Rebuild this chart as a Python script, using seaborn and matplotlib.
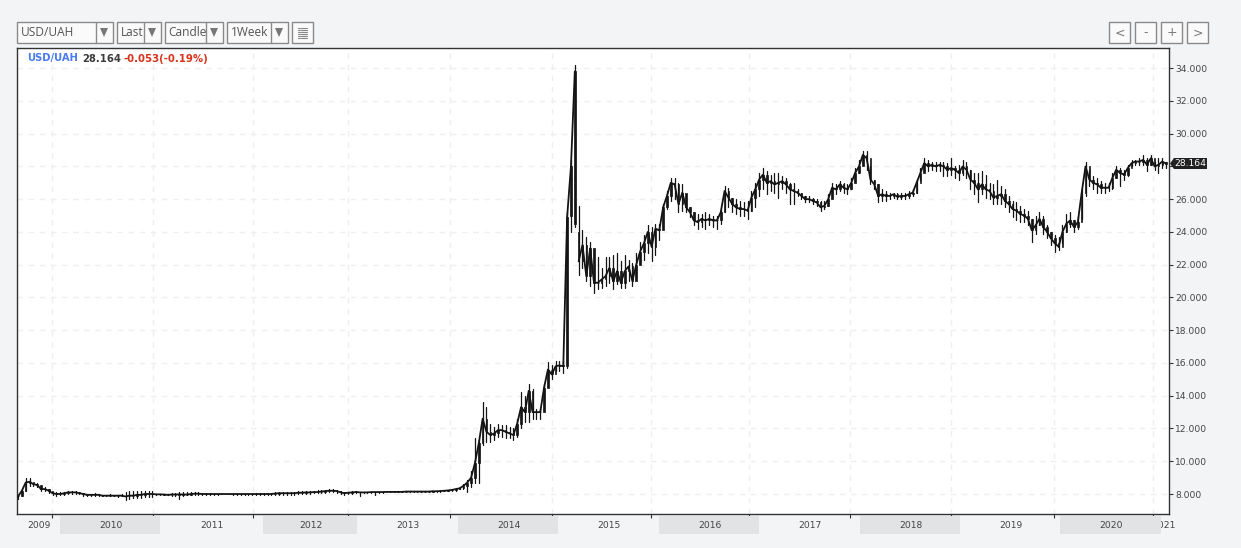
import numpy as np
import pandas as pd
import matplotlib
matplotlib.use("Agg")
import matplotlib.pyplot as plt
from matplotlib.patches import Rectangle, Polygon
import seaborn as sns

years = ["2009","2010","2011","2012","2013","2014","2015","2016","2017","2018","2019","2020","2021"]
price_ticks = [8,10,12,14,16,18,20,22,24,26,28,30,32,34]

close_2009 = [7.85,8.2,8.7,8.75,8.6,8.55,8.3,8.3,8.2]
high_2009  = [7.95,8.3,8.95,8.95,8.7,8.7,8.45,8.45,8.3]
low_2009   = [7.7,7.9,8.2,8.5,8.5,8.4,8.2,8.2,8.05]

close_2010 = [8.05,8.0,8.0,8.05,8.1,8.1,8.1,8.05,8.0,7.95,7.95,7.95,7.95,7.9,7.9,7.9,7.9,7.9,7.9,7.85,7.9,7.9,7.95,7.95,8.0,8.0,8.0]
high_2010  = [8.15,8.1,8.1,8.15,8.2,8.2,8.2,8.1,8.05,8.0,8.0,8.05,8.0,7.95,7.95,8.0,7.95,7.95,7.98,8.15,8.2,8.2,8.2,8.2,8.2,8.2,8.2]
low_2010   = [7.95,7.9,7.95,7.95,8.0,8.0,8.0,8.0,7.9,7.88,7.85,7.85,7.9,7.85,7.85,7.85,7.85,7.82,7.85,7.65,7.7,7.75,7.75,7.75,7.8,7.8,7.8]

close_2011 = [7.98,7.98,7.97,7.95,7.97,7.97,7.98,7.97,7.97,8.0,8.02,8.02,8.0,8.0,8.0,8.0,8.0,8.0,8.0,8.0,8.0,8.0,8.0,8.0,8.0,8.0]
high_2011  = [8.02,8.02,8.02,8.0,8.05,8.08,8.1,8.1,8.1,8.1,8.1,8.1,8.08,8.06,8.05,8.03,8.02,8.02,8.02,8.02,8.03,8.03,8.03,8.02,8.03,8.03]
low_2011   = [7.95,7.95,7.93,7.92,7.9,7.9,7.72,7.9,7.92,7.95,7.97,7.97,7.95,7.96,7.96,7.97,7.97,7.98,7.98,7.98,7.97,7.97,7.97,7.97,7.96,7.96]

close_2012 = [8.0,8.0,8.0,8.0,8.0,8.03,8.05,8.05,8.05,8.05,8.05,8.08,8.08,8.1,8.1,8.12,8.12,8.15,8.18,8.2,8.2,8.18,8.1,8.05]
high_2012  = [8.04,8.05,8.05,8.06,8.08,8.12,8.15,8.15,8.15,8.15,8.15,8.17,8.17,8.2,8.2,8.2,8.22,8.24,8.26,8.28,8.28,8.25,8.2,8.15]
low_2012   = [7.96,7.96,7.95,7.93,7.92,7.92,7.95,7.95,7.95,7.95,7.95,7.98,8.0,8.0,8.02,8.04,8.05,8.05,8.08,8.1,8.1,8.08,8.0,7.95]

close_2013 = [8.08,8.1,8.12,8.1,8.1,8.1,8.12,8.12,8.12,8.12,8.13,8.13,8.13,8.13,8.13,8.15,8.15,8.15,8.15,8.15,8.15,8.15,8.17,8.17,8.18,8.2,8.22]
high_2013  = [8.15,8.18,8.18,8.15,8.15,8.15,8.15,8.15,8.15,8.15,8.15,8.16,8.16,8.16,8.16,8.18,8.18,8.18,8.18,8.18,8.18,8.18,8.2,8.2,8.22,8.24,8.26]
low_2013   = [8.0,8.03,8.05,7.9,8.05,8.05,8.08,7.95,8.08,8.08,8.1,8.1,8.1,8.1,8.1,8.12,8.12,8.12,8.12,8.12,8.12,8.12,8.13,8.13,8.14,8.16,8.18]

close_2014 = [8.25,8.3,8.35,8.5,8.7,9.0,9.9,11.1,12.6,11.8,11.6,11.7,11.9,11.9,11.8,11.7,11.6,12.3,13.3,13.0,14.3,13.0,13.0,13.0,14.5,15.6,15.3]
high_2014  = [8.3,8.35,8.4,8.6,8.85,9.4,11.4,11.3,13.6,13.3,12.3,12.1,12.3,12.2,12.2,12.1,12.0,12.6,14.2,14.0,14.7,14.4,13.2,13.2,14.7,16.05,15.9]
low_2014   = [8.2,8.2,8.3,8.3,8.1,8.4,8.7,8.7,11.0,11.2,11.2,11.3,11.5,11.5,11.4,11.4,11.3,11.5,12.0,12.4,12.4,12.6,12.6,12.6,13.5,14.9,15.0]

close_2015 = [15.8,15.85,15.8,24.9,28.0,33.8,22.2,23.2,21.3,23.0,20.9,20.9,21.1,21.3,21.8,21.0,21.6,20.9,21.6,21.9,21.0,22.0,22.8,23.3,24.0]
high_2015  = [16.1,16.1,16.1,25.2,28.4,34.2,25.6,24.1,23.7,23.4,22.0,22.5,21.8,22.5,22.5,22.6,22.7,22.2,22.6,22.3,22.1,22.7,23.4,23.8,24.4]
low_2015   = [15.5,15.5,15.4,15.7,24.0,24.3,21.4,21.8,21.0,20.7,20.3,20.5,20.6,20.7,20.9,20.5,20.8,20.6,20.6,21.0,20.7,21.3,22.1,22.3,22.7]

close_2016 = [23.1,24.2,24.1,25.5,26.2,27.0,26.9,25.7,26.4,25.5,25.2,24.7,24.6,24.8,24.7,24.8,24.7,24.7,25.2,26.5,26.1,25.7,25.5,25.4,25.4,25.3]
high_2016  = [24.3,24.5,24.5,25.7,26.5,27.3,27.3,27.0,26.9,26.2,25.5,25.2,25.1,25.1,25.2,25.1,25.0,25.0,25.4,26.8,26.7,26.1,26.0,25.9,25.8,25.9]
low_2016   = [22.2,22.6,23.5,24.6,25.4,25.9,26.0,25.2,25.3,25.2,24.9,24.4,24.2,24.3,24.2,24.4,24.3,24.2,24.5,25.2,25.5,25.2,25.1,25.0,25.0,24.8]

close_2017 = [26.1,26.6,27.2,27.5,27.0,27.1,26.9,27.0,27.1,26.9,26.6,26.5,26.4,26.2,26.0,26.0,25.9,25.8,25.5,25.6,26.0,26.7,26.6,26.9,26.7,26.6]
high_2017  = [26.5,27.0,27.6,27.9,27.7,27.5,27.6,27.6,27.4,27.3,27.0,27.0,26.6,26.4,26.2,26.2,26.1,26.0,25.9,25.9,26.3,27.0,26.9,27.1,27.0,26.9]
low_2017   = [25.3,25.5,26.2,26.6,26.3,26.5,26.4,26.1,26.6,26.4,25.7,25.7,26.2,26.0,25.8,25.8,25.7,25.6,25.3,25.4,25.6,26.3,26.3,26.5,26.4,26.3]

close_2018 = [27.0,27.6,28.0,28.7,28.5,27.2,26.9,26.2,26.3,26.2,26.2,26.3,26.15,26.2,26.2,26.3,26.4,27.0,27.6,28.2,28.0,28.1,28.0,28.1,28.0,27.8,27.9]
high_2018  = [27.3,27.9,28.4,28.95,28.95,28.0,27.2,26.9,26.6,26.5,26.4,26.4,26.35,26.4,26.4,26.5,26.6,27.2,27.9,28.5,28.4,28.3,28.3,28.3,28.3,28.2,28.5]
low_2018   = [26.6,27.2,27.6,28.2,27.8,26.9,26.6,25.8,25.9,25.9,26.0,26.1,26.0,26.0,26.0,26.1,26.2,26.4,27.2,27.8,27.7,27.8,27.7,27.7,27.4,27.4,27.5]

close_2019 = [27.8,27.6,28.0,27.8,27.2,27.0,26.6,26.9,26.6,26.5,26.1,26.2,26.3,25.9,25.7,25.4,25.3,25.1,25.0,24.8,24.1,24.4,24.8,24.3,24.0,23.6]
high_2019  = [28.0,28.1,28.4,28.3,27.8,27.6,27.6,27.7,27.5,27.0,26.9,27.2,26.8,26.6,26.2,25.9,25.8,25.6,25.4,25.3,24.8,25.0,25.2,25.0,24.4,24.0]
low_2019   = [27.3,27.2,27.5,27.3,26.6,26.3,25.8,26.3,26.1,26.0,25.7,25.7,25.7,25.5,25.2,24.9,24.7,24.6,24.6,24.4,23.4,23.9,24.4,23.9,23.6,23.2]

close_2020 = [23.3,23.1,24.0,24.5,24.7,24.3,24.6,26.4,28.0,27.2,27.0,26.9,26.7,26.7,26.7,27.3,27.8,27.6,27.5,27.9,28.2,28.3,28.3,28.4,28.1,28.5]
high_2020  = [23.8,23.7,24.4,25.1,25.2,24.7,25.0,26.7,28.3,27.8,27.4,27.3,27.1,27.0,27.0,27.6,28.0,27.9,27.8,28.1,28.4,28.4,28.5,28.7,28.5,28.7]
low_2020   = [22.8,22.9,23.3,24.0,24.3,24.0,24.2,24.8,26.2,26.8,26.6,26.4,26.4,26.4,26.5,26.6,27.3,26.8,27.2,27.4,28.0,28.1,28.1,28.1,27.7,28.1]

close_2021 = [28.0,28.1,28.3,28.164]
high_2021  = [28.3,28.5,28.5,28.3]
low_2021   = [27.8,27.6,27.9,27.9]

open_overrides = {144: 25.0, 145: 24.5, 146: 24.0}

close = np.concatenate([close_2009,close_2010,close_2011,close_2012,close_2013,close_2014,close_2015,close_2016,close_2017,close_2018,close_2019,close_2020,close_2021])
high = np.concatenate([high_2009,high_2010,high_2011,high_2012,high_2013,high_2014,high_2015,high_2016,high_2017,high_2018,high_2019,high_2020,high_2021])
low = np.concatenate([low_2009,low_2010,low_2011,low_2012,low_2013,low_2014,low_2015,low_2016,low_2017,low_2018,low_2019,low_2020,low_2021])
idx = np.arange(len(close))
opens = np.r_[close[0], close[:-1]]
for k, v in open_overrides.items():
    opens[k] = v

df = pd.DataFrame({"i": idx, "open": opens, "high": high, "low": low, "close": close})
wicks = df.melt(id_vars="i", value_vars=["high", "low"], value_name="price")

W, H = 1241, 548
BG = "#f3f4f6"
sns.set_theme(style="white")
plt.rcParams["font.family"] = ["DejaVu Sans"]
fig = plt.figure(figsize=(W/100, H/100), dpi=100, facecolor=BG)

L, R, T, B = 17.0, 1169, 48, 514
ax = fig.add_axes([L/W, 1-B/H, (R-L)/W, (B-T)/H], facecolor="white")

PX0, PXS = 18.0, 3.84   # one candle step on the pixel scale
ax.set_xlim((L-PX0)/PXS, (R-PX0)/PXS)
ax.set_ylim(6.78, 35.23)

year_px = [52,153,253,348,450,552,651,749,850,951,1054,1153]
year_ticks = [(p-PX0)/PXS for p in year_px]
ax.set_xticks(year_ticks)
ax.set_xticklabels([])
ax.yaxis.tick_right()
ax.set_yticks(price_ticks)
# the 28.000 label sits under the dark last-price tag in the reference
ax.set_yticklabels(["" if v == 28 else f"{v:.3f}" for v in price_ticks], fontsize=6.6, color="#444444")
ax.tick_params(axis="y", length=3, width=0.8, color="#333333", pad=1.5, right=True, left=False)
ax.tick_params(axis="x", length=3, width=0.8, color="#333333", bottom=True)
ax.grid(True, color="#efefef", lw=1, ls=(0, (4, 4)))
ax.set_axisbelow(True)
for s in ax.spines.values():
    s.set_color("#333333"); s.set_linewidth(1.0); s.set_visible(True)

INK = "#141414"
sns.lineplot(data=wicks, x="i", y="price", units="i", estimator=None, color=INK,
             lw=0.9, ax=ax, legend=False, sort=False, zorder=3)
# closes joined up, broken at the spike so its fall stays a single column
for part in (df[df["i"] <= 145], df[df["i"] >= 146]):
    sns.lineplot(data=part, x="i", y="close", estimator=None, color=INK, lw=1.3,
                 ax=ax, legend=False, sort=False, zorder=4)
ax.bar(df["i"], (df["close"]-df["open"]).abs(), bottom=df[["open","close"]].min(axis=1),
       width=0.42, color=INK, edgecolor=INK, lw=0.5, zorder=4)
ax.set_xlabel(""); ax.set_ylabel("")

# page chrome in pixel coordinates
ov = fig.add_axes([0, 0, 1, 1], facecolor="none")
ov.set_xlim(0, W); ov.set_ylim(H, 0); ov.axis("off")

label_x = [39,111,212,311,408,509,609,710,810,911,1011,1111,1164]
ov.text(label_x[-1], 525, years[-1], ha="center", va="center", fontsize=6.6, color="#444444", zorder=1)
for x0, x1 in [(60,160),(263,357),(458,558),(659,759),(860,960),(1060,1161)]:
    ov.add_patch(Rectangle((x0,516), x1-x0, 18, fc="#e2e3e5", ec="none", zorder=2))
for x, y in zip(label_x[:-1], years[:-1]):
    ov.text(x, 525, y, ha="center", va="center", fontsize=6.6, color="#444444", zorder=3)

BOX = "#8a8a8a"; TXT = "#555555"
for x0, xd, x1, s in [(17,96,113,"USD/UAH"),(117,144,161,"Last"),(165,206,223,"Candle"),(227,271,288,"1Week")]:
    ov.add_patch(Rectangle((x0-.5,21.5), x1-x0, 21, fc="#fafafa", ec=BOX, lw=1))
    ov.plot([xd-.5,xd-.5],[21.5,42.5], color=BOX, lw=1)
    ov.text(x0+3.5, 32.5, s, ha="left", va="center", fontsize=8.6, color=TXT, fontfamily="Open Sans")
    c = (xd+x1)/2-.5
    ov.add_patch(Polygon([(c-4,28),(c+4,28),(c,37)], fc="#777777", ec="none"))
ov.add_patch(Rectangle((291.5,21.5), 21, 21, fc="#fafafa", ec=BOX, lw=1))
for yy in [27,29,31,33,35,37]:
    ov.plot([298,300],[yy+.5,yy+.5], color="#888888", lw=0.8)
    ov.plot([301,307],[yy+.5,yy+.5], color="#888888", lw=0.8)
for x0, s in [(1109,"<"),(1135,"-"),(1161,"+"),(1187,">")]:
    ov.add_patch(Rectangle((x0-.5,21.5), 21, 21, fc="#fafafa", ec=BOX, lw=1))
    ov.text(x0+10.5, 33, s, ha="center", va="center", fontsize=9, color="#777777")

ov.text(27, 58.5, "USD/UAH", ha="left", va="center", fontsize=7.2, fontweight="bold", color="#4a7bf0")
ov.text(82, 58.5, "28.164", ha="left", va="center", fontsize=7.2, fontweight="bold", color="#3c3c3c")
ov.text(124, 58.5, "-0.053(-0.19%)", ha="left", va="center", fontsize=7.3, fontweight="bold", color="#d8321a")

ov.add_patch(Polygon([(1170,163.5),(1174,158),(1207,158),(1207,169),(1174,169)], fc="#222222", ec="none"))
ov.text(1190.5, 163.5, "28.164", ha="center", va="center", fontsize=6.6, color="white")

fig.savefig("out.png", dpi=100, facecolor=BG)
